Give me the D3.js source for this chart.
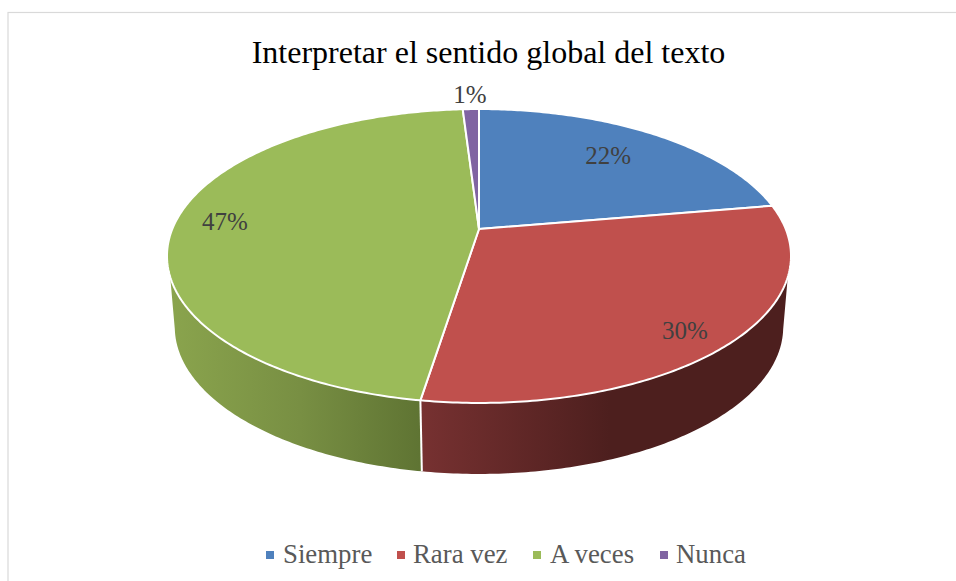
<!DOCTYPE html>
<html><head><meta charset="utf-8">
<script src="https://cdn.jsdelivr.net/npm/d3@7/dist/d3.min.js"></script>
<style>html,body{margin:0;padding:0;background:#fff}svg{display:block}text{font-family:"Liberation Serif",serif}</style>
</head><body><svg id="c" width="956" height="581"></svg>
<script>
const title = "Interpretar el sentido global del texto";
const categories = ["Siempre","Rara vez","A veces","Nunca"];
const shares = [22.3,30.2,46.5,1];
const percentLabels = ["22%","30%","47%","1%"];
const topColors = ["#4f81bd","#c0504d","#9bbb59","#8064a2"];

const svg = d3.select("#c");
const W=956,H=581;
svg.append("rect").attr("x",8).attr("y",12.5).attr("width",W).attr("height",H).attr("fill","#fff").attr("stroke","#d9d9d9").attr("stroke-width",1.2);

// perspective projection of a unit circle
const apex=[479,229], k=.1837, ax=306.7, by=142;
function proj(phi,r=1,sx=1,dy=0){
  const x=r*Math.sin(phi), y=-r*Math.cos(phi), w=1-k*y;
  return [apex[0]+sx*ax*x/w, apex[1]+dy+by*y/w];
}
const line=d3.line();
const pie=d3.pie().sort(null).value(d=>d)(shares);
const arcPts=(a,b,sx,dy)=>{const n=Math.max(2,Math.ceil(Math.abs(b-a)*80));return d3.range(n+1).map(i=>proj(a+(b-a)*i/n,1,sx,dy));};
const wallS=.975, wallD=71;

const defs=svg.append("defs");
function grad(id,stops){
  const g=defs.append("linearGradient").attr("id",id).attr("gradientUnits","userSpaceOnUse")
    .attr("x1",stops[0][0]).attr("x2",stops[stops.length-1][0]).attr("y1",0).attr("y2",0);
  const x0=stops[0][0],x1=stops[stops.length-1][0];
  stops.forEach(s=>g.append("stop").attr("offset",(s[0]-x0)/(x1-x0)).attr("stop-color",s[1]));
}
grad("gGreen",[[170,"#8aa44d"],[300,"#788f43"],[420,"#5f7433"]]);
grad("gRed",[[420,"#773131"],[610,"#4d1f1e"],[790,"#4d1f1e"]]);

// side walls: the top rim and the lower rim leave the silhouette at different angles
const rad=Math.PI/180;
const rimStart=108.6*rad, rimEnd=251.4*rad, baseStart=101.4*rad, baseEnd=258.6*rad;
const e=pie[1].endAngle;
svg.append("path").attr("d",line(arcPts(rimStart,e,1,0).concat(arcPts(e,baseStart,wallS,wallD)))+"Z").attr("fill","url(#gRed)");
svg.append("path").attr("d",line(arcPts(e,rimEnd,1,0).concat(arcPts(baseEnd,e,wallS,wallD)))+"Z").attr("fill","url(#gGreen)");
svg.append("path").attr("d",line([proj(e),proj(e,1,wallS,wallD)])).attr("stroke","#fff").attr("stroke-width",2).attr("fill","none");

// top faces
pie.forEach((p,i)=>{
  const pts=[apex].concat(arcPts(p.startAngle,p.endAngle,1,0));
  svg.append("path").attr("d",line(pts)+"Z").attr("fill",topColors[i]).attr("stroke","#fff").attr("stroke-width",2).attr("stroke-linejoin","round");
});

// labels
const labelR=[.72,.83,.835,1.14];
const labelDx=[0,3,0,0], labelDy=[6,17,7,8];
pie.forEach((p,i)=>{
  const m=proj((p.startAngle+p.endAngle)/2,labelR[i]);
  svg.append("text").attr("x",m[0]+labelDx[i]).attr("y",m[1]+labelDy[i]).attr("text-anchor","middle")
    .attr("font-size",25).attr("fill","#404040").text(percentLabels[i]);
});

svg.append("text").attr("x",488.5).attr("y",63).attr("text-anchor","middle").attr("font-size",32).attr("fill","#000").text(title);

// legend
const legendX=d3.scaleOrdinal().domain(categories).range([266,397,533,660]);
const legendTextX=d3.scaleOrdinal().domain(categories).range([283,413,550,676]);
categories.forEach((c,i)=>{
  svg.append("rect").attr("x",legendX(c)).attr("y",551).attr("width",8).attr("height",8).attr("fill",topColors[i]);
  svg.append("text").attr("x",legendTextX(c)).attr("y",563).attr("font-size",26.8).attr("fill","#595959").text(c);
});
</script></body></html>
